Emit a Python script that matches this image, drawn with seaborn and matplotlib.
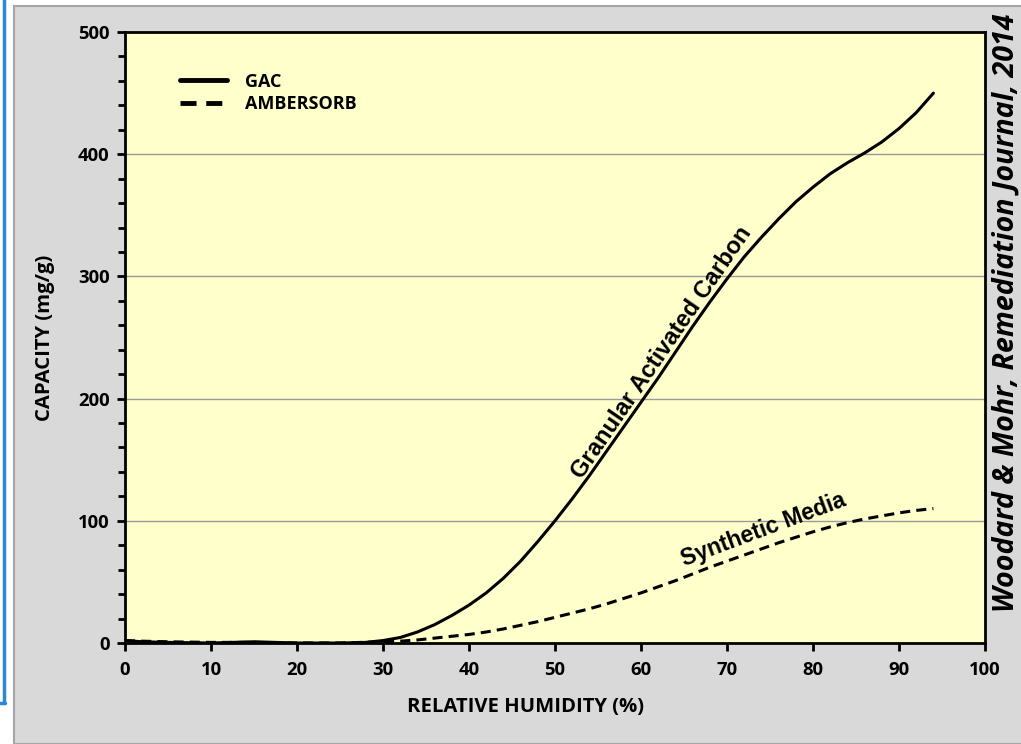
import matplotlib
matplotlib.use("Agg")
import matplotlib.pyplot as plt
import matplotlib.patches as mpatches
import matplotlib.lines as mlines
from matplotlib.ticker import MultipleLocator
import seaborn as sns
import pandas as pd

# ---- data ----
gac_rh = [0, 2, 5, 10, 15, 20, 25, 28, 30, 32, 34, 36, 38, 40, 42, 44, 46, 48, 50, 52,
          54, 56, 58, 60, 62, 64, 66, 68, 70, 72, 74, 76, 78, 80, 82, 84, 86, 88, 90,
          92, 94]
gac_cap = [2, 1, 0.5, 0, 1, 0, 0, 0.5, 2, 4.5, 9, 15, 22.5, 31, 41, 53, 67, 83, 100, 118,
           137, 157, 177, 197, 217, 238, 259, 279, 298, 316, 332, 347, 361, 373, 384, 393,
           401, 410, 421, 434, 450]
amb_rh = [0, 2, 5, 10, 15, 20, 25, 30, 32, 34, 36, 38, 40, 42, 44, 46, 48, 50, 52, 54,
          56, 58, 60, 62, 64, 66, 68, 70, 72, 74, 76, 78, 80, 82, 84, 86, 88, 90, 92, 94]
amb_cap = [2, 1.5, 1, 0.5, 0.5, 0, 0, 1, 1.5, 2.5, 4, 5.5, 7, 9, 11.5, 14.5, 17.5, 21,
           24.5, 28, 32, 36.5, 41, 46, 51, 56.5, 62, 67, 72, 77, 82, 86.5, 91, 95, 98.5,
           101.5, 104, 106.5, 108.5, 110]
series_names = ["GAC", "AMBERSORB"]
x_ticks = list(range(0, 101, 10))
y_ticks = list(range(0, 501, 100))

df = pd.concat([
    pd.DataFrame({"rh": gac_rh, "cap": gac_cap, "media": series_names[0]}),
    pd.DataFrame({"rh": amb_rh, "cap": amb_cap, "media": series_names[1]}),
])

sns.set_style("white")
UI = "Open Sans"
plt.rcParams["font.family"] = [UI, "DejaVu Sans"]
plt.rcParams["text.color"] = "black"
plt.rcParams["axes.labelcolor"] = "black"

W, H = 1021, 744
fig = plt.figure(figsize=(W / 100, H / 100), dpi=100, facecolor="white")

# outer decorations
fig.patches.append(mpatches.Rectangle((14 / W, 0), 1.2, 1 - 6 / H, transform=fig.transFigure,
                                      facecolor="#d9d9d9", edgecolor="#a6a6a6", lw=1.5, zorder=-5))
fig.lines.append(mlines.Line2D([3.5 / W, 3.5 / W], [1, 1 - 703 / H], transform=fig.transFigure,
                               color="#2e86d4", lw=2.5, zorder=-5))
fig.lines.append(mlines.Line2D([0, 4.5 / W], [1 - 703 / H, 1 - 703 / H], transform=fig.transFigure,
                               color="#2e86d4", lw=2.5, zorder=-5))

ax = fig.add_axes([125 / W, 1 - 643 / H, 860 / W, 611 / H])
ax.set_facecolor("#ffffcc")

sns.lineplot(data=df, x="rh", y="cap", style="media", style_order=series_names,
             dashes={"GAC": "", "AMBERSORB": (3.3, 2.0)}, color="black", lw=2.2,
             ax=ax, legend=True)

ax.set_xlim(0, 100)
ax.set_ylim(0, 500)
ax.set_xticks(x_ticks)
ax.set_yticks(y_ticks)
ax.yaxis.set_minor_locator(MultipleLocator(20))
for y in y_ticks[1:-1]:
    ax.axhline(y, color="#9a9a9a", lw=1.0, zorder=0.5)

for s in ax.spines.values():
    s.set_color("black")
    s.set_linewidth(2.0)
    s.set_visible(True)

ax.tick_params(axis="x", which="major", direction="out", length=6, width=2,
               color="black", labelcolor="black", labelsize=13.3, pad=7, bottom=True)
ax.tick_params(axis="y", which="major", direction="out", length=6, width=2,
               color="black", labelcolor="black", labelsize=13.3, pad=5, left=True)
ax.tick_params(axis="y", which="minor", direction="out", length=5, width=2,
               color="black", left=True)
for lab in ax.get_xticklabels() + ax.get_yticklabels():
    lab.set_fontweight("bold")

ax.set_xlabel("RELATIVE HUMIDITY (%)", fontsize=14.6, fontweight="bold")
ax.xaxis.set_label_coords((525 - 125) / 860, -(697 - 643) / 611)
ax.set_ylabel("CAPACITY (mg/g)", fontsize=14.6, fontweight="bold")
ax.yaxis.set_label_coords(-(125 - 55) / 860, 0.5)

leg = ax.legend(loc="upper left", bbox_to_anchor=(0.045, 0.96), frameon=False,
                handlelength=2.6, handletextpad=1.0, labelspacing=0.25,
                prop={"family": UI, "weight": "bold", "size": 13})
for h in leg.get_lines():
    h.set_linewidth(3.5)

ax.text(62.4, 238, "Granular Activated Carbon", rotation=55.5, ha="center", va="center",
        fontsize=17, fontweight="bold", family="Liberation Sans", rotation_mode="anchor")
ax.text(74.2, 93, "Synthetic Media", rotation=20.5, ha="center", va="center",
        fontsize=16.5, fontweight="bold", family="Liberation Sans", rotation_mode="anchor")

fig.text(1006 / W, 1 - 612 / H, "Woodard & Mohr, Remediation Journal, 2014", rotation=90,
         ha="center", va="bottom", fontsize=20.6, fontweight="bold", fontstyle="italic",
         family=UI, color="black")

fig.savefig("out.png", dpi=100, facecolor="white")
